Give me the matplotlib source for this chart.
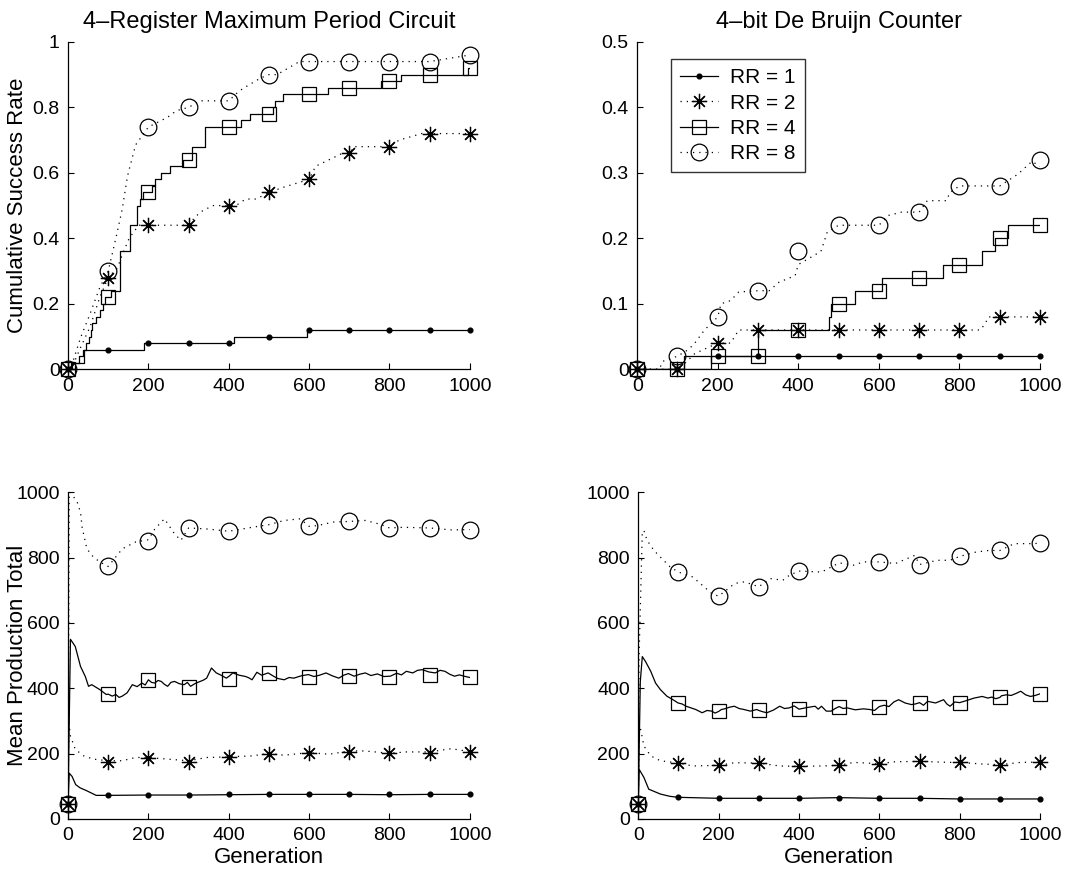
"""
plot.py - RR 1/2/4/8 success rate and production total (4-register vs de Bruijn)
"""

import matplotlib
matplotlib.use("Agg")
import matplotlib.pyplot as plt
from matplotlib.lines import Line2D

plt.rcParams["font.family"] = ["Liberation Sans", "DejaVu Sans"]

gens = [0, 100, 200, 300, 400, 500, 600, 700, 800, 900, 1000]
rr_labels = ["RR = 1", "RR = 2", "RR = 4", "RR = 8"]

# ---- 4-register, cumulative success rate ----
reg_succ_marks = {
    1: [0, 0.06, 0.08, 0.08, 0.08, 0.10, 0.12, 0.12, 0.12, 0.12, 0.12],
    2: [0, 0.28, 0.44, 0.44, 0.50, 0.54, 0.58, 0.66, 0.68, 0.72, 0.72],
    4: [0, 0.22, 0.54, 0.64, 0.74, 0.78, 0.84, 0.86, 0.88, 0.90, 0.92],
    8: [0, 0.30, 0.74, 0.80, 0.82, 0.90, 0.94, 0.94, 0.94, 0.94, 0.96],
}
# step curves (generation where the rate changes, new rate)
reg_rr1_x = [0, 10, 40, 188, 412, 596, 1000]
reg_rr1_y = [0, 0.02, 0.06, 0.08, 0.10, 0.12, 0.12]
reg_rr4_x = [0, 8, 27, 38, 45, 52, 56, 60, 70, 80, 86, 92, 100, 108, 130, 155, 172, 178, 186,
             208, 216, 232, 255, 285, 309, 341, 430, 452, 510, 515, 536, 648, 778, 828, 995, 1000]
reg_rr4_y = [0, 0.02, 0.04, 0.06, 0.08, 0.10, 0.12, 0.14, 0.16, 0.18, 0.20, 0.22, 0.22, 0.24, 0.36,
             0.44, 0.50, 0.52, 0.54, 0.56, 0.58, 0.60, 0.62, 0.64, 0.68, 0.74, 0.76, 0.78, 0.80, 0.82,
             0.84, 0.86, 0.88, 0.90, 0.92, 0.92]
# dotted curves
reg_rr2_x = [0, 15, 31, 55, 79, 100, 123, 135, 152, 176, 200, 300, 313, 329, 360, 400, 418, 442,
             468, 500, 536, 600, 616, 680, 700, 712, 776, 800, 824, 880, 900, 1000]
reg_rr2_y = [0, 0.02, 0.066, 0.13, 0.22, 0.28, 0.31, 0.35, 0.40, 0.44, 0.44, 0.44, 0.46, 0.48, 0.50,
             0.50, 0.50, 0.52, 0.52, 0.54, 0.556, 0.58, 0.62, 0.658, 0.66, 0.68, 0.68, 0.68, 0.70,
             0.72, 0.72, 0.72]
reg_rr8_x = [0, 6, 31, 55, 79, 100, 119, 135, 148, 168, 200, 248, 270, 300, 329, 400, 426, 452,
             480, 500, 520, 576, 600, 900, 950, 1000]
reg_rr8_y = [0, 0.0, 0.096, 0.17, 0.25, 0.30, 0.40, 0.49, 0.59, 0.685, 0.74, 0.77, 0.79, 0.80, 0.82,
             0.82, 0.85, 0.87, 0.89, 0.90, 0.90, 0.94, 0.94, 0.94, 0.95, 0.96]

# ---- de Bruijn, cumulative success rate ----
dbc_succ_marks = {
    1: [0, 0, 0.02, 0.02, 0.02, 0.02, 0.02, 0.02, 0.02, 0.02, 0.02],
    2: [0, 0, 0.04, 0.06, 0.06, 0.06, 0.06, 0.06, 0.06, 0.08, 0.08],
    4: [0, 0, 0.02, 0.02, 0.06, 0.10, 0.12, 0.14, 0.16, 0.20, 0.22],
    8: [0, 0.02, 0.08, 0.12, 0.18, 0.22, 0.22, 0.24, 0.28, 0.28, 0.32],
}
dbc_rr1_x = [0, 115, 1000]
dbc_rr1_y = [0, 0.02, 0.02]
dbc_rr4_x = [0, 182, 300, 475, 480, 540, 608, 760, 856, 888, 920, 1000]
dbc_rr4_y = [0, 0.02, 0.06, 0.08, 0.10, 0.12, 0.14, 0.16, 0.18, 0.20, 0.22, 0.22]
dbc_rr2_x = [0, 100, 120, 143, 200, 232, 252, 300, 852, 864, 872, 900, 1000]
dbc_rr2_y = [0, 0, 0.01, 0.024, 0.04, 0.04, 0.06, 0.06, 0.06, 0.07, 0.08, 0.08, 0.08]
dbc_rr8_x = [0, 55, 63, 100, 127, 143, 167, 200, 208, 232, 252, 300, 328, 352, 392, 400,
             456, 472, 500, 600, 624, 656, 700, 720, 768, 776, 800, 900, 944, 980, 1000]
dbc_rr8_y = [0, 0, 0.012, 0.02, 0.03, 0.04, 0.06, 0.08, 0.10, 0.105, 0.118, 0.12, 0.12, 0.133,
             0.143, 0.16, 0.18, 0.21, 0.22, 0.22, 0.235, 0.24, 0.24, 0.2575, 0.2575, 0.27, 0.28,
             0.28, 0.2975, 0.3175, 0.31]

# ---- 4-register, mean production total ----
reg_prod_marks = {
    1: [45, 73, 74, 74, 75, 75, 75, 75, 75, 75, 75],
    2: [45, 173, 186, 175, 189, 199, 201, 206, 201, 203, 206],
    4: [45, 382, 425, 405, 427, 446, 433, 438, 435, 440, 433],
    8: [45, 773, 852, 891, 881, 901, 896, 911, 891, 891, 886],
}
reg_p1_x = [0, 3, 10, 19, 30, 45, 60, 70, 100, 200, 300, 400, 500, 600, 700, 800, 900, 1000]
reg_p1_y = [45, 140, 130, 105, 95, 87, 78, 72, 72, 73, 73, 74, 75, 75, 75, 74, 75, 75]
reg_p2_x = [0, 2, 6, 18, 39, 63, 100, 135, 168, 200, 248, 300, 345, 400, 458, 500, 538, 600,
            650, 700, 738, 800, 842, 900, 954, 1000]
reg_p2_y = [45, 294, 254, 213, 193, 183, 178, 178, 188, 188, 183, 178, 188, 190, 193, 200, 195, 203,
            198, 208, 208, 201, 205, 205, 215, 206]
reg_p4_x = [0, 6, 18, 31, 43, 51, 59, 79, 95, 100, 110, 119, 127, 135, 147, 160, 172, 184, 192,
            200, 208, 216, 224, 232, 240, 248, 256, 265, 277, 289, 297, 305, 317, 329, 337, 345,
            357, 369, 381, 394, 402, 410, 426, 442, 450, 458, 470, 482, 498, 510, 522, 538, 550,
            562, 580, 598, 612, 626, 642, 658, 674, 686, 698, 712, 726, 740, 754, 770, 786, 802,
            818, 830, 842, 858, 870, 882, 898, 914, 926, 938, 950, 962, 974, 986, 1000]
reg_p4_y = [45, 550, 528, 467, 436, 406, 411, 396, 381, 382, 376, 381, 372, 376, 386, 411, 405, 416,
            410, 426, 418, 416, 424, 421, 412, 406, 418, 421, 414, 411, 418, 406, 415, 421, 425, 431,
            462, 447, 440, 431, 438, 447, 440, 436, 432, 426, 449, 440, 447, 438, 430, 426, 433,
            431, 438, 442, 436, 440, 447, 438, 431, 440, 445, 437, 443, 447, 439, 444, 436, 437,
            446, 441, 452, 447, 455, 457, 450, 447, 455, 452, 443, 437, 441, 437, 433]
reg_p8_x = [0, 3, 6, 23, 31, 35, 47, 63, 79, 100, 135, 168, 200, 216, 240, 265, 281, 300, 345,
            400, 458, 500, 538, 578, 600, 620, 660, 700, 740, 778, 800, 834, 900, 954, 1000]
reg_p8_y = [45, 1000, 1000, 970, 939, 893, 827, 802, 787, 773, 827, 848, 855, 888, 919, 873, 853,
            891, 888, 881, 893, 901, 914, 919, 896, 898, 909, 911, 914, 902, 891, 893, 891, 885, 886]

# ---- de Bruijn, mean production total ----
dbc_prod_marks = {
    1: [45, 66, 63, 63, 63, 65, 63, 63, 61, 61, 61],
    2: [45, 171, 164, 171, 161, 164, 169, 176, 173, 166, 174],
    4: [45, 356, 329, 332, 336, 344, 344, 356, 356, 372, 383],
    8: [45, 756, 682, 711, 759, 784, 787, 779, 804, 822, 844],
}
dbc_p1_x = [0, 2, 14, 26, 55, 79, 100, 200, 300, 400, 500, 600, 700, 800, 900, 1000]
dbc_p1_y = [45, 152, 127, 91, 76, 69, 66, 63, 63, 63, 65, 63, 63, 61, 61, 61]
dbc_p2_x = [0, 2, 6, 14, 31, 55, 100, 135, 200, 240, 300, 352, 400, 456, 500, 536, 600, 640,
            700, 776, 800, 856, 900, 952, 1000]
dbc_p2_y = [45, 270, 274, 223, 193, 178, 171, 162, 164, 172, 171, 162, 161, 162, 164, 173, 169, 175,
            176, 173, 173, 168, 166, 173, 174]
dbc_p4_x = [0, 5, 10, 18, 31, 43, 55, 71, 85, 99, 109, 119, 131, 143, 151, 159, 171, 183, 191,
            200, 207, 215, 227, 239, 251, 263, 279, 295, 300, 310, 320, 336, 352, 364, 376, 388,
            400, 420, 440, 448, 456, 468, 480, 490, 500, 510, 520, 540, 560, 576, 588, 600, 612,
            624, 636, 648, 664, 680, 690, 700, 710, 720, 740, 760, 768, 776, 788, 800, 816, 836,
            856, 870, 880, 890, 900, 904, 916, 928, 940, 952, 964, 976, 988, 1000]
dbc_p4_y = [45, 420, 497, 482, 452, 416, 396, 376, 366, 355, 352, 345, 340, 335, 330, 325, 332,
            330, 324, 329, 335, 337, 342, 345, 338, 335, 330, 335, 332, 328, 325, 333, 345, 338, 340,
            346, 336, 341, 345, 336, 345, 330, 330, 338, 344, 338, 340, 334, 337, 335, 332, 344,
            348, 344, 358, 365, 355, 350, 352, 356, 348, 360, 355, 365, 352, 345, 358, 356, 362,
            370, 375, 370, 373, 368, 372, 377, 380, 378, 384, 391, 380, 375, 378, 383]
dbc_p8_x = [0, 2, 10, 14, 22, 39, 55, 79, 100, 135, 159, 183, 200, 240, 264, 300, 328, 360, 376,
            400, 456, 500, 536, 560, 600, 640, 688, 700, 744, 776, 800, 840, 872, 900, 936, 976, 1000]
dbc_p8_y = [45, 500, 880, 883, 853, 822, 802, 772, 756, 741, 716, 690, 682, 721, 726, 711, 736, 731,
            746, 759, 756, 784, 777, 787, 787, 782, 807, 779, 792, 792, 804, 817, 822, 822, 843,
            843, 844]

STYLE = {
    1: dict(ls="-", marker="o", ms=3.5, mfc="k"),
    2: dict(ls=(0, (1, 4)), marker=(8, 2, 0), ms=11, mfc="none"),
    4: dict(ls="-", marker="s", ms=10, mfc="none"),
    8: dict(ls=(0, (1, 4)), marker="o", ms=12, mfc="none"),
}


def draw(ax, lines, marks, steps):
    for rr, (lx, ly) in lines.items():
        st = STYLE[rr]
        ds = "steps-post" if rr in steps else "default"
        ax.plot(lx, ly, color="k", ls=st["ls"], lw=0.9, drawstyle=ds)
        ax.plot(gens, marks[rr], ls="none", marker=st["marker"], ms=st["ms"],
                mfc=st["mfc"], mec="k", mew=0.9, clip_on=False)


def style_axes(ax, ymax, yticks, ylabels):
    ax.set_xlim(0, 1000)
    ax.set_ylim(0, ymax)
    ax.set_xticks(range(0, 1001, 200))
    ax.set_yticks(yticks)
    ax.set_yticklabels(ylabels)
    for s in ["top", "right"]:
        ax.spines[s].set_visible(False)
    for s in ["left", "bottom"]:
        ax.spines[s].set_linewidth(0.9)
    ax.tick_params(direction="in", length=4, width=0.8, labelsize=14, pad=6)


fig = plt.figure(figsize=(10.8, 8.73), dpi=100)
ax1 = fig.add_axes([0.063, 0.577, 0.372, 0.375])
ax2 = fig.add_axes([0.590, 0.577, 0.373, 0.375])
ax3 = fig.add_axes([0.063, 0.062, 0.372, 0.374])
ax4 = fig.add_axes([0.591, 0.062, 0.372, 0.374])

draw(ax1, {1: (reg_rr1_x, reg_rr1_y), 2: (reg_rr2_x, reg_rr2_y),
           4: (reg_rr4_x, reg_rr4_y), 8: (reg_rr8_x, reg_rr8_y)}, reg_succ_marks, steps=(1, 4))
draw(ax2, {1: (dbc_rr1_x, dbc_rr1_y), 2: (dbc_rr2_x, dbc_rr2_y),
           4: (dbc_rr4_x, dbc_rr4_y), 8: (dbc_rr8_x, dbc_rr8_y)}, dbc_succ_marks, steps=(1, 4))
draw(ax3, {1: (reg_p1_x, reg_p1_y), 2: (reg_p2_x, reg_p2_y),
           4: (reg_p4_x, reg_p4_y), 8: (reg_p8_x, reg_p8_y)}, reg_prod_marks, steps=())
draw(ax4, {1: (dbc_p1_x, dbc_p1_y), 2: (dbc_p2_x, dbc_p2_y),
           4: (dbc_p4_x, dbc_p4_y), 8: (dbc_p8_x, dbc_p8_y)}, dbc_prod_marks, steps=())

style_axes(ax1, 1, [0, 0.2, 0.4, 0.6, 0.8, 1], ["0", "0.2", "0.4", "0.6", "0.8", "1"])
style_axes(ax2, 0.5, [0, 0.1, 0.2, 0.3, 0.4, 0.5], ["0", "0.1", "0.2", "0.3", "0.4", "0.5"])
prod_ticks = [0, 200, 400, 600, 800, 1000]
style_axes(ax3, 1000, prod_ticks, [str(t) for t in prod_ticks])
style_axes(ax4, 1000, prod_ticks, [str(t) for t in prod_ticks])

ax1.set_title("4\u2013Register Maximum Period Circuit", fontsize=17, pad=10)
ax2.set_title("4\u2013bit De Bruijn Counter", fontsize=17, pad=10)
ax1.set_ylabel("Cumulative Success Rate", fontsize=16)
ax3.set_ylabel("Mean Production Total", fontsize=16)
ax1.yaxis.set_label_coords(-0.099, 0.5)
ax3.yaxis.set_label_coords(-0.099, 0.5)
ax3.set_xlabel("Generation", fontsize=16, labelpad=2)
ax4.set_xlabel("Generation", fontsize=16, labelpad=2)

handles = []
for rr in (1, 2, 4, 8):
    st = STYLE[rr]
    handles.append(Line2D([], [], color="k", ls=st["ls"], lw=0.9, marker=st["marker"],
                          ms=st["ms"], mfc=st["mfc"], mec="k", mew=0.9))
leg = ax2.legend(handles, rr_labels, loc="upper left", bbox_to_anchor=(0.084, 0.948),
                 borderaxespad=0, fontsize=15, frameon=True, fancybox=False,
                 edgecolor="k", handlelength=1.8, labelspacing=0.3, borderpad=0.45,
                 handletextpad=0.6)
leg.get_frame().set_linewidth(1.0)

fig.savefig("out.png", dpi=100)
